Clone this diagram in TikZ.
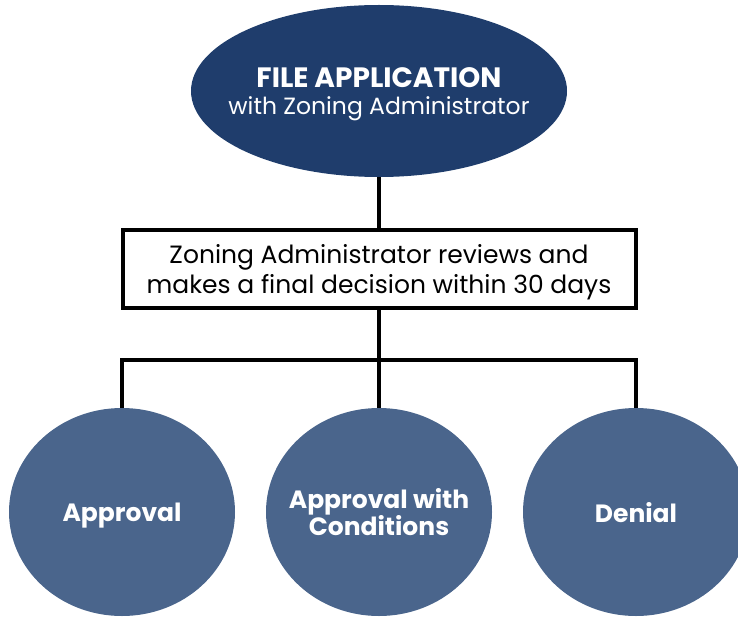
\documentclass[tikz,border=0pt]{standalone}
\usepackage{fontspec}
\setmainfont{Poppins}
\usetikzlibrary{shapes.geometric}

\definecolor{navy}{RGB}{31,61,108}
\definecolor{steel}{RGB}{74,101,140}

\begin{document}
\begin{tikzpicture}[
    x=1pt, y=-1pt,
    edge/.style={draw, line width=4pt},
    start/.style={ellipse, fill=navy, text=white, minimum width=376pt, minimum height=172pt, inner xsep=-80pt, inner ysep=0pt, align=center, text depth=-6.5pt, font=\fontsize{23.5}{27}\selectfont},
    stepbox/.style={rectangle, draw, line width=4pt, fill=white, minimum width=513pt, minimum height=78pt, inner sep=0pt, align=center, text depth=-1pt, font=\fontsize{25}{30}\selectfont},
    outcome/.style={ellipse, fill=steel, text=white, minimum width=226pt, minimum height=208pt, inner xsep=-50pt, inner ysep=0pt, align=center, text depth=-8pt, font=\bfseries\fontsize{25}{27}\selectfont}
]

\clip (0,0) rectangle (738,620);

\node[start] (file) at (379,91) {{\bfseries\fontsize{28}{27}\selectfont FILE APPLICATION}\\
  with Zoning Administrator};

\node[stepbox] (review) at (379,269) {Zoning Administrator reviews and\\
  makes a final decision within 30 days};

\coordinate (bus) at (379,360);

% the three outcomes
\node[outcome] (approve) at (122,512) {Approval};
\node[outcome] (cond) at (379,512) {Approval with\\Conditions};
\node[outcome] (deny) at (636,512) {Denial};

% connectors
\draw[edge] (file) -- (review);
\draw[edge] (review) -- (bus);
\draw[edge] (approve.north) |- (bus) -| (deny.north);
\draw[edge] (bus) -- (cond);

\end{tikzpicture}
\end{document}
